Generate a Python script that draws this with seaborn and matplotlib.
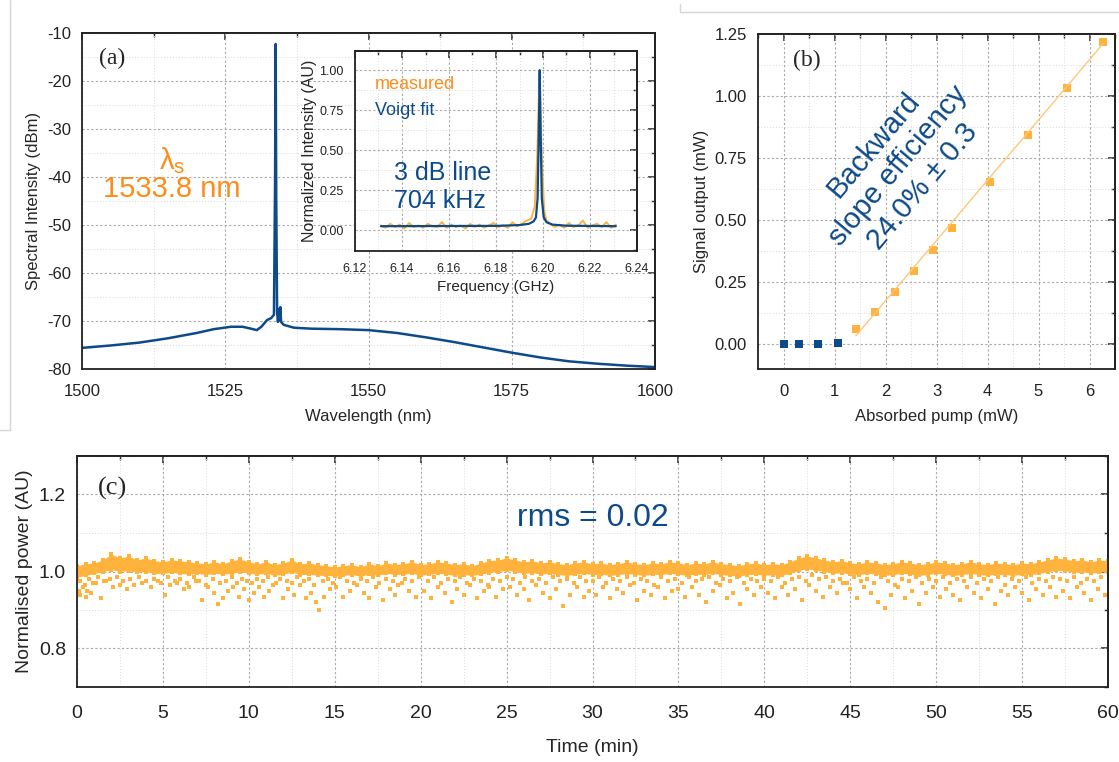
import numpy as np
import seaborn as sns
import matplotlib
matplotlib.use('Agg')
from matplotlib import pyplot as plt
from matplotlib.lines import Line2D
from matplotlib.ticker import MultipleLocator, FormatStrFormatter

# ---------- data ----------
# (a) spectrum
wl = [1500, 1505, 1510, 1515, 1520, 1523, 1526, 1528, 1529.5, 1530.5, 1531.3, 1532.3,
      1533.0, 1533.5, 1533.7, 1533.8, 1533.9, 1534.05, 1534.2, 1534.35, 1534.5, 1534.6,
      1534.75, 1535.2, 1537, 1540, 1545, 1550, 1555, 1560, 1565, 1570, 1575, 1580,
      1585, 1590, 1595, 1600]
dbm = [-75.6, -75.1, -74.5, -73.6, -72.5, -71.7, -71.2, -71.2, -71.6, -71.9, -71.2, -69.8,
       -69.4, -68.7, -40.0, -12.3, -45.0, -68.2, -70.2, -67.5, -69.8, -67.1,
       -70.2, -70.8, -71.4, -71.6, -71.7, -71.9, -72.5, -73.4, -74.4, -75.5, -76.6, -77.6,
       -78.4, -78.9, -79.3, -79.6]

# (a) inset: measured beat note and Voigt fit
meas_f = [6.131, 6.133, 6.135, 6.137, 6.139, 6.141, 6.143, 6.145, 6.147, 6.149, 6.151,
          6.153, 6.155, 6.157, 6.159, 6.161, 6.163, 6.165, 6.167, 6.169, 6.171, 6.173,
          6.175, 6.177, 6.179, 6.181, 6.183, 6.185, 6.187, 6.189, 6.191, 6.193, 6.195,
          6.1965, 6.1975, 6.1985, 6.1995, 6.2005, 6.2015,
          6.203, 6.205, 6.207, 6.209, 6.211, 6.213, 6.215, 6.217, 6.219, 6.221, 6.223,
          6.225, 6.227, 6.229, 6.231]
meas_y = [0.03, 0.015, 0.04, 0.02, 0.035, 0.01, 0.045, 0.02, 0.03, 0.015, 0.04,
          0.025, 0.02, 0.05, 0.015, 0.035, 0.02, 0.03, 0.01, 0.04, 0.02, 0.035,
          0.015, 0.03, 0.045, 0.02, 0.03, 0.015, 0.05, 0.025, 0.04, 0.06, 0.07,
          0.15, 0.45, 0.97, 0.45, 0.12, 0.06,
          0.04, 0.02, 0.035, 0.015, 0.045, 0.02, 0.03, 0.06, 0.015, 0.03, 0.04,
          0.02, 0.05, 0.015, 0.035]
fit_f = [6.131, 6.180, 6.190, 6.194, 6.196, 6.197, 6.1977, 6.1982, 6.1986, 6.199,
         6.1995, 6.2003, 6.2015, 6.204, 6.210, 6.231]
fit_y = [0.025, 0.027, 0.032, 0.040, 0.055, 0.080, 0.20, 0.60, 1.00, 0.60,
         0.20, 0.080, 0.050, 0.035, 0.028, 0.025]

# (b) slope efficiency
pump_below = [0.0, 0.31, 0.68, 1.06]
sig_below = [0.0, 0.002, 0.002, 0.006]
pump_above = [1.42, 1.80, 2.18, 2.55, 2.93, 3.31, 4.05, 4.80, 5.55, 6.27]
sig_above = [0.063, 0.131, 0.209, 0.294, 0.379, 0.469, 0.655, 0.843, 1.032, 1.219]
fit_pump = [1.42, 6.27]
fit_sig = [0.034, 1.212]

# (c) power stability, upper/lower edge of the dense band every 0.5 min
band_hi = [1.015, 1.02, 1.022, 1.03, 1.045, 1.035, 1.04, 1.03, 1.035, 1.028, 1.025,
           1.03, 1.028, 1.025, 1.022, 1.02, 1.025, 1.02, 1.028, 1.032, 1.025,
           1.02, 1.025, 1.018, 1.022, 1.03, 1.02, 1.022, 1.018, 1.015, 1.012,
           1.015, 1.018, 1.012, 1.02, 1.015, 1.022, 1.018, 1.02, 1.025, 1.018,
           1.02, 1.025, 1.022, 1.018, 1.02, 1.015, 1.022, 1.028, 1.03, 1.035,
           1.03, 1.025, 1.028, 1.022, 1.025, 1.02, 1.018, 1.022, 1.025, 1.02,
           1.022, 1.018, 1.02, 1.025, 1.02, 1.018, 1.022, 1.02, 1.025, 1.022,
           1.018, 1.022, 1.02, 1.025, 1.02, 1.018, 1.015, 1.02, 1.022, 1.018,
           1.02, 1.018, 1.025, 1.035, 1.04, 1.035, 1.03, 1.025, 1.028, 1.022,
           1.02, 1.025, 1.022, 1.018, 1.02, 1.025, 1.022, 1.018, 1.02, 1.025,
           1.022, 1.018, 1.02, 1.025, 1.02, 1.018, 1.022, 1.02, 1.018, 1.022,
           1.02, 1.025, 1.03, 1.035, 1.032, 1.028, 1.03, 1.025, 1.03, 1.028]
band_lo = [0.985, 0.99, 0.995, 1.0, 1.005, 1.0, 1.002, 0.998, 1.0, 0.995, 0.995,
           0.998, 0.995, 0.993, 0.995, 0.992, 0.995, 0.993, 0.995, 1.0, 0.995,
           0.993, 0.995, 0.99, 0.993, 0.998, 0.992, 0.993, 0.99, 0.99, 0.988,
           0.99, 0.992, 0.988, 0.993, 0.99, 0.995, 0.992, 0.993, 0.995, 0.99,
           0.993, 0.995, 0.993, 0.99, 0.992, 0.99, 0.993, 0.997, 1.0, 1.003,
           1.0, 0.995, 0.997, 0.993, 0.995, 0.992, 0.99, 0.993, 0.995, 0.992,
           0.993, 0.99, 0.992, 0.995, 0.992, 0.99, 0.993, 0.992, 0.995, 0.993,
           0.99, 0.993, 0.992, 0.995, 0.992, 0.99, 0.988, 0.992, 0.993, 0.99,
           0.992, 0.99, 0.995, 1.003, 1.007, 1.003, 1.0, 0.995, 0.997, 0.993,
           0.992, 0.995, 0.993, 0.99, 0.992, 0.995, 0.993, 0.99, 0.992, 0.995,
           0.993, 0.99, 0.992, 0.995, 0.992, 0.99, 0.993, 0.992, 0.99, 0.993,
           0.992, 0.995, 1.0, 1.003, 1.002, 0.998, 1.0, 0.995, 1.0, 0.998]
band_t = np.arange(len(band_hi)) * 0.5

# (c) sparse low readings well below the band
dip_t = [0.1, 0.2, 0.35, 0.5, 0.6, 0.8, 1.1, 1.4, 1.7, 2.1, 2.5, 2.9, 3.3, 3.8, 4.3, 4.7,
         5.1, 5.4, 5.8, 6.2, 6.5, 6.9, 7.3, 7.6, 8.0, 8.2, 8.5, 8.8, 9.1, 9.4, 9.7,
         10.0, 10.3, 10.6, 10.9, 11.2, 11.6, 12.0, 12.3, 12.6, 13.0, 13.3, 13.6, 13.9, 14.1, 14.4, 14.7,
         15.1, 15.5, 15.9, 16.3, 16.7, 17.0, 17.4, 17.8, 18.2, 18.5, 18.9, 19.3, 19.7,
         20.2, 20.6, 21.0, 21.4, 21.8, 22.1, 22.5, 22.9, 23.3, 23.7, 24.0, 24.4, 24.8,
         25.2, 25.6, 26.0, 26.3, 26.7, 27.1, 27.5, 27.9, 28.3, 28.7, 29.1, 29.5, 29.8,
         30.2, 30.6, 31.0, 31.4, 31.8, 32.2, 32.6, 33.0, 33.4, 33.8, 34.2, 34.6,
         35.0, 35.4, 35.8, 36.2, 36.6, 37.0, 37.4, 37.8, 38.2, 38.6, 39.0, 39.4, 39.8,
         40.2, 40.6, 41.0, 41.4, 41.8, 42.2, 42.6, 43.0, 43.4, 43.8, 44.2, 44.6,
         45.0, 45.4, 45.8, 46.2, 46.6, 47.0, 47.4, 47.8, 48.2, 48.6, 49.0, 49.4, 49.8,
         50.2, 50.6, 51.0, 51.4, 51.8, 52.2, 52.6, 53.0, 53.4, 53.8, 54.2, 54.6,
         55.0, 55.4, 55.8, 56.2, 56.6, 57.0, 57.4, 57.8, 58.2, 58.6, 59.0, 59.4, 59.8]
dip_y = [0.95, 0.94, 0.96, 0.935, 0.95, 0.945, 0.97, 0.93, 0.975, 0.96, 0.965, 0.955, 0.965, 0.97, 0.96, 0.975,
         0.94, 0.965, 0.97, 0.955, 0.96, 0.975, 0.925, 0.96, 0.945, 0.915, 0.93, 0.95, 0.96, 0.935, 0.955,
         0.925, 0.945, 0.96, 0.935, 0.95, 0.97, 0.93, 0.955, 0.94, 0.965, 0.93, 0.945, 0.92, 0.90, 0.935, 0.955,
         0.96, 0.935, 0.95, 0.965, 0.945, 0.93, 0.96, 0.925, 0.955, 0.94, 0.97, 0.95, 0.935,
         0.95, 0.93, 0.96, 0.945, 0.92, 0.955, 0.94, 0.965, 0.93, 0.95, 0.96, 0.935, 0.955,
         0.96, 0.94, 0.955, 0.925, 0.965, 0.945, 0.93, 0.955, 0.91, 0.94, 0.96, 0.935, 0.95,
         0.94, 0.96, 0.93, 0.955, 0.945, 0.965, 0.925, 0.95, 0.94, 0.96, 0.93, 0.95,
         0.955, 0.935, 0.96, 0.94, 0.92, 0.95, 0.965, 0.93, 0.945, 0.915, 0.955, 0.94, 0.96,
         0.945, 0.93, 0.96, 0.94, 0.955, 0.925, 0.965, 0.95, 0.935, 0.96, 0.945, 0.97,
         0.955, 0.93, 0.96, 0.945, 0.92, 0.905, 0.94, 0.96, 0.93, 0.95, 0.915, 0.945, 0.96,
         0.935, 0.955, 0.94, 0.925, 0.96, 0.945, 0.93, 0.955, 0.915, 0.95, 0.94, 0.96,
         0.945, 0.925, 0.955, 0.94, 0.96, 0.935, 0.95, 0.93, 0.96, 0.945, 0.925, 0.955, 0.94]

# (c) low readings just under the band
near_t = [0.15, 0.45, 0.7, 0.95, 1.25, 1.6, 1.9, 2.3, 2.7, 3.1, 3.6, 4.0, 4.5,
          4.9, 5.3, 5.7, 6.0, 6.4, 6.8, 7.1, 7.5, 7.9, 8.3, 8.7, 9.0, 9.3,
          9.6, 9.9, 10.2, 10.5, 10.8, 11.1, 11.4, 11.8, 12.2, 12.5, 12.8, 13.2, 13.5,
          13.8, 14.3, 14.6, 14.9, 15.3, 15.7, 16.1, 16.5, 16.9, 17.2, 17.6, 18.0, 18.4,
          18.7, 19.1, 19.5, 19.9, 20.4, 20.8, 21.2, 21.6, 22.0, 22.3, 22.7, 23.1, 23.5,
          23.9, 24.2, 24.6, 25.0, 25.4, 25.8, 26.1, 26.5, 26.9, 27.3, 27.7, 28.1, 28.5,
          28.9, 29.3, 29.6, 30.0, 30.4, 30.8, 31.2, 31.6, 32.0, 32.4, 32.8, 33.2, 33.6,
          34.0, 34.4, 34.8, 35.2, 35.6, 36.0, 36.4, 36.8, 37.2, 37.6, 38.0, 38.4, 38.8,
          39.2, 39.6, 40.0, 40.4, 40.8, 41.2, 41.6, 42.0, 42.4, 42.8, 43.2, 43.6, 44.0,
          44.4, 44.8, 45.2, 45.6, 46.0, 46.4, 46.8, 47.2, 47.6, 48.0, 48.4, 48.8, 49.2,
          49.6, 50.0, 50.4, 50.8, 51.2, 51.6, 52.0, 52.4, 52.8, 53.2, 53.6, 54.0, 54.4,
          54.8, 55.2, 55.6, 56.0, 56.4, 56.8, 57.2, 57.6, 58.0, 58.4, 58.8, 59.2, 59.6]
near_y = [0.975, 0.965, 0.98, 0.97, 0.985, 0.975, 0.98, 0.985, 0.975, 0.98, 0.985, 0.975, 0.98,
          0.97, 0.985, 0.975, 0.98, 0.97, 0.985, 0.975, 0.965, 0.98, 0.97, 0.975, 0.985, 0.97,
          0.98, 0.975, 0.97, 0.98, 0.975, 0.985, 0.965, 0.98, 0.975, 0.97, 0.985, 0.975, 0.98,
          0.965, 0.975, 0.98, 0.97, 0.985, 0.975, 0.97, 0.98, 0.975, 0.985, 0.97, 0.98, 0.975,
          0.965, 0.98, 0.975, 0.985, 0.975, 0.985, 0.97, 0.98, 0.975, 0.985, 0.97, 0.98, 0.975,
          0.965, 0.98, 0.975, 0.985, 0.98, 0.97, 0.985, 0.975, 0.98, 0.97, 0.985, 0.975, 0.98,
          0.97, 0.985, 0.975, 0.975, 0.985, 0.97, 0.98, 0.975, 0.985, 0.97, 0.98, 0.975, 0.965,
          0.985, 0.975, 0.98, 0.97, 0.985, 0.975, 0.98, 0.985, 0.97, 0.98, 0.975, 0.985, 0.97,
          0.98, 0.975, 0.98, 0.975, 0.985, 0.97, 0.98, 0.985, 0.975, 0.99, 0.98, 0.985, 0.975,
          0.98, 0.97, 0.985, 0.975, 0.98, 0.97, 0.985, 0.975, 0.965, 0.98, 0.975, 0.985, 0.97,
          0.98, 0.975, 0.985, 0.97, 0.98, 0.975, 0.985, 0.97, 0.98, 0.975, 0.985, 0.965, 0.98,
          0.975, 0.985, 0.97, 0.98, 0.975, 0.985, 0.98, 0.975, 0.985, 0.97, 0.98, 0.975, 0.985]

navy = '#0d4a8a'
orange_txt = '#ff8c1a'
orange_pts = '#ffb23c'
orange_fit = '#ffc777'

sns.set_style('white')
plt.rcParams['font.family'] = ['Liberation Sans', 'DejaVu Sans']
plt.rcParams['mathtext.default'] = 'regular'
plt.rcParams['axes.unicode_minus'] = False


def origin_frame(ax, xmaj, xmin, ymaj, ymin, size, pad=5):
    # Origin-like box: outward ticks with labels on bottom/left, inward ticks on top/right
    ax.xaxis.set_major_locator(MultipleLocator(xmaj))
    ax.xaxis.set_minor_locator(MultipleLocator(xmin))
    ax.yaxis.set_major_locator(MultipleLocator(ymaj))
    ax.yaxis.set_minor_locator(MultipleLocator(ymin))
    ax.tick_params(which='major', direction='out', length=5, width=1.1,
                   labelsize=size, pad=3, colors='#222222')
    ax.tick_params(axis='x', which='major', pad=pad)
    ax.tick_params(which='minor', direction='out', length=3, width=1, colors='#222222')
    top = ax.secondary_xaxis('top')
    right = ax.secondary_yaxis('right')
    for sec, axis in [(top, top.xaxis), (right, right.yaxis)]:
        step_maj, step_min = (xmaj, xmin) if sec is top else (ymaj, ymin)
        axis.set_major_locator(MultipleLocator(step_maj))
        axis.set_minor_locator(MultipleLocator(step_min))
        sec.tick_params(which='major', direction='in', length=5, width=1.1, colors='#222222')
        sec.tick_params(which='minor', direction='in', length=3, width=1, colors='#222222')
        sec.tick_params(labeltop=False, labelright=False)
        for sp in sec.spines.values():
            sp.set_linewidth(1.3)
            sp.set_color('#222222')
    ax.grid(which='major', ls=(0, (2, 2)), color='#a8a8a8', lw=0.8)
    ax.grid(which='minor', ls=(0, (1, 2)), color='#dadada', lw=0.7)
    ax.set_axisbelow(True)
    for sp in ax.spines.values():
        sp.set_linewidth(1.3)
        sp.set_color('#222222')


fig = plt.figure(figsize=(11.19, 7.62), dpi=100)
W, H = 1119, 762

# ---------- (a) ----------
ax_a = fig.add_axes([82 / W, 1 - 369 / H, 573 / W, 336 / H])
sns.lineplot(x=wl, y=dbm, ax=ax_a, color=navy, lw=1.8, sort=False, estimator=None)
ax_a.set_xlim(1500, 1600)
ax_a.set_ylim(-80, -10)
origin_frame(ax_a, 25, 12.5, 10, 5, 12, pad=6)
ax_a.set_xlabel('Wavelength (nm)', fontsize=12, labelpad=7)
ax_a.set_ylabel('Spectral Intensity (dBm)', fontsize=12)
ax_a.text(0.052, 0.925, '(a)', transform=ax_a.transAxes, fontsize=17,
          family=['Liberation Serif', 'DejaVu Serif'], ha='center', va='center')
ax_a.text(1515.7, -36.5, 'λ$_{s}$', color=orange_txt, fontsize=21, ha='center', va='center')
ax_a.text(1515.7, -42.5, '1533.8 nm', color=orange_txt, fontsize=21, ha='center', va='center')

# inset
ax_i = fig.add_axes([355 / W, 1 - 251 / H, 282 / W, 200 / H])
sns.lineplot(x=meas_f, y=meas_y, ax=ax_i, color=orange_pts, lw=1.4, sort=False, estimator=None)
sns.lineplot(x=fit_f, y=fit_y, ax=ax_i, color=navy, lw=1.6, sort=False, estimator=None)
ax_i.set_xlim(6.12, 6.24)
ax_i.set_ylim(-0.13, 1.12)
origin_frame(ax_i, 0.02, 0.01, 0.25, 0.125, 9, pad=4)
ax_i.xaxis.set_major_formatter(FormatStrFormatter('%.2f'))
ax_i.yaxis.set_major_formatter(FormatStrFormatter('%.2f'))
ax_i.set_xlabel('Frequency (GHz)', fontsize=11, labelpad=3)
ax_i.set_ylabel('Normalized Intensity (AU)', fontsize=11.5, labelpad=2)
ax_i.text(0.07, 0.83, 'measured', transform=ax_i.transAxes, color=orange_txt, fontsize=13, va='center')
ax_i.text(0.07, 0.70, 'Voigt fit', transform=ax_i.transAxes, color=navy, fontsize=13, va='center')
ax_i.text(0.14, 0.32, '3 dB line\n704 kHz', transform=ax_i.transAxes, color=navy,
          fontsize=18, va='center', linespacing=1.2)

# ---------- (b) ----------
ax_b = fig.add_axes([758 / W, 1 - 369 / H, 357 / W, 335 / H])
sns.lineplot(x=fit_pump, y=fit_sig, ax=ax_b, color=orange_fit, lw=1.0, sort=False, estimator=None)
sns.scatterplot(x=pump_below, y=sig_below, ax=ax_b, marker='s', s=30, color=navy, linewidth=0)
sns.scatterplot(x=pump_above, y=sig_above, ax=ax_b, marker='s', s=30, color=orange_pts, linewidth=0)
ax_b.set_xlim(-0.5, 6.5)
ax_b.set_ylim(-0.1, 1.25)
origin_frame(ax_b, 1, 0.5, 0.25, 0.125, 12, pad=6)
ax_b.yaxis.set_major_formatter(FormatStrFormatter('%.2f'))
ax_b.set_xlabel('Absorbed pump (mW)', fontsize=12, labelpad=7)
ax_b.set_ylabel('Signal output (mW)', fontsize=12)
ax_b.text(0.137, 0.922, '(b)', transform=ax_b.transAxes, fontsize=17,
          family=['Liberation Serif', 'DejaVu Serif'], ha='center', va='center')
ax_b.text(2.25, 0.72, 'Backward\nslope efficiency\n24.0% ± 0.3', color=navy, fontsize=21,
          rotation=50, ha='center', va='center', multialignment='center',
          linespacing=1.2, rotation_mode='anchor')

# ---------- (c) ----------
ax_c = fig.add_axes([77 / W, 1 - 687 / H, 1031 / W, 231 / H])
ax_c.fill_between(band_t, band_lo, band_hi, color=orange_pts, lw=0)
sns.scatterplot(x=band_t, y=band_hi, ax=ax_c, marker='s', s=10, color=orange_pts, linewidth=0)
sns.scatterplot(x=band_t, y=band_lo, ax=ax_c, marker='s', s=10, color=orange_pts, linewidth=0)
sns.scatterplot(x=near_t, y=near_y, ax=ax_c, marker='s', s=10, color=orange_pts, linewidth=0)
sns.scatterplot(x=dip_t, y=dip_y, ax=ax_c, marker='s', s=10, color=orange_pts, linewidth=0)
ax_c.set_xlim(0, 60)
ax_c.set_ylim(0.7, 1.3)
origin_frame(ax_c, 5, 2.5, 0.2, 0.1, 14, pad=8)
ax_c.yaxis.set_major_formatter(FormatStrFormatter('%.1f'))
ax_c.set_xlabel('Time (min)', fontsize=14, labelpad=12)
ax_c.set_ylabel('Normalised power (AU)', fontsize=14)
ax_c.text(0.034, 0.86, '(c)', transform=ax_c.transAxes, fontsize=19,
          family=['Liberation Serif', 'DejaVu Serif'], ha='center', va='center')
ax_c.text(30, 1.14, 'rms = 0.02', color=navy, fontsize=23, ha='center', va='center')

# faint frame lines left over from the source screenshot
for xs, ys in [([10 / W, 10 / W], [1, 1 - 430 / H]),
               ([0, 10 / W], [1 - 430 / H, 1 - 430 / H]),
               ([680 / W, 1], [1 - 12 / H, 1 - 12 / H]),
               ([680 / W, 680 / W], [1 - 4 / H, 1 - 12 / H])]:
    fig.add_artist(Line2D(xs, ys, transform=fig.transFigure, color='#d6d6d6', lw=1))

fig.savefig('out.png', dpi=100)
